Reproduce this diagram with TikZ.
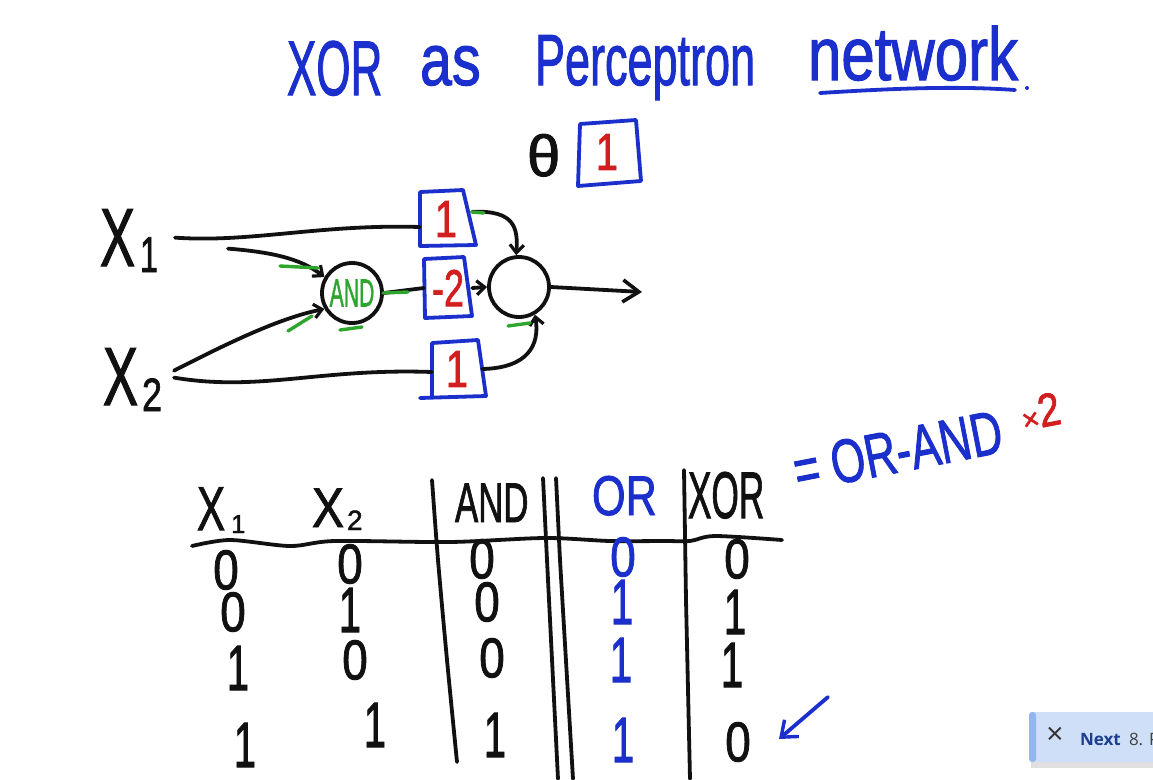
\documentclass[tikz,border=0pt]{standalone}
\usepackage{fontspec}
\setmainfont{Liberation Sans}[FakeBold=1.6]
\newfontfamily\uifont{Open Sans}
\usetikzlibrary{arrows.meta,calc}
\definecolor{penblue}{HTML}{1A2FCC}
\definecolor{penred}{HTML}{D21E1E}
\definecolor{pengreen}{HTML}{2EA62E}
\definecolor{ink}{HTML}{111111}
\definecolor{uibg}{HTML}{CFDFF8}
\definecolor{uistrip}{HTML}{93B6EE}
\definecolor{uitext}{HTML}{1B3F8E}
\newcommand{\hw}[3]{\scalebox{#1}[#2]{#3}}
\newcommand{\fs}[1]{\fontsize{#1}{#1}\selectfont}
\newcommand{\Zr}{\hw{1.15}{1.4}{0}}
\newcommand{\On}{\hw{1}{1.6}{1}}
\begin{document}
\begin{tikzpicture}[x=1pt,y=-1pt,
  txt/.style={inner sep=0pt, outer sep=0pt, anchor=base west, text=ink},
  dig/.style={inner sep=0pt, font=\fs{40}, text=ink},
  inkline/.style={line width=3.8pt, line cap=round, line join=round, draw=ink},
  bpen/.style={line width=3.8pt, line cap=round, line join=round, draw=penblue},
  gpen/.style={line width=3.4pt, line cap=round, draw=pengreen},
  barb/.style={-{Straight Barb[length=8pt,width=14pt,line width=3.2pt]}},
  neuron/.style={circle, draw=ink, line width=3.8pt, minimum size=60pt, inner sep=0pt},
  wbox/.style={inner sep=0pt, font=\fs{40}, text=penred}
]
\useasboundingbox (0,0) rectangle (1153,779);
\fill[white] (0,0) rectangle (1153,779);

% title
\node[txt, text=penblue, font=\fs{50}] (tw1) at (287,95) {\hw{0.88}{1.55}{XOR}};
\node[txt, text=penblue, font=\fs{50}] (tw2) at (420,85) {\hw{1.15}{1.45}{as}};
\node[txt, text=penblue, font=\fs{50}] (tw3) at (535,85) {\hw{0.9}{1.45}{Perceptron}};
\node[txt, text=penblue, font=\fs{50}] (tw4) at (808,80) {\hw{1.2}{1.5}{network}};
\draw[bpen] (820,93) .. controls (900,88) and (960,86) .. (1015,90);
\fill[penblue] (1027,88) circle (2);

% theta
\node[txt, font=\fs{40}] (theta) at (527,176) {\hw{1.5}{1.45}{θ}};
\draw[bpen] (580,124) -- (578,186) -- (641,181) -- (636,120) -- cycle;
\node[wbox] (thval) at (607,152) {\hw{1}{1.3}{1}};

% weight boxes
\draw[bpen] (420,192) -- (420,246) -- (476,245) -- (463,190) -- cycle;
\node[wbox, minimum width=52pt, minimum height=54pt] (w1) at (446,219) {\hw{1}{1.3}{1}};
\draw[bpen] (424,259) -- (425,318) -- (472,316) -- (464,257) -- cycle;
\node[wbox, minimum width=48pt, minimum height=58pt] (w2) at (448,288) {\hw{0.9}{1.3}{-2}};
\draw[bpen] (432,396) -- (432,343) -- (478,340) -- (486,396) -- (420,398);
\node[wbox, minimum width=50pt, minimum height=54pt] (w3) at (457,369) {\hw{1}{1.3}{1}};

% units
\node[neuron, text=pengreen, font=\fs{23}] (AND) at (352,293) {\hw{0.92}{1.7}{AND}};
\node[neuron] (out) at (519,287) {};

% inputs
\node[txt, font=\fs{50}] (X1) at (100,266) {\hw{1.05}{1.65}{X}\kern5pt\raisebox{-6pt}{\fs{36}\hw{0.9}{1.4}{1}}};
\node[txt, font=\fs{50}] (X2) at (103,405) {\hw{1.05}{1.65}{X}\kern4pt\raisebox{-6pt}{\fs{36}\hw{1}{1.3}{2}}};

% connectors
\draw[inkline] ($(X1.east)+(17,-3)$) .. controls (250,243) and (320,224) .. ($(w1.west)+(0,8)$);
\draw[inkline, barb] ($(X1.east)+(70,8)$) .. controls (270,252) and (300,258) .. (AND.150);
\draw[inkline, barb] ($(X2.east)+(12,-9)$) .. controls (230,342) and (280,318) .. (AND.210);
\draw[inkline] ($(X2.east)+(12,-2)$) .. controls (260,392) and (320,368) .. ($(w3.west)+(0,3)$);
\draw[inkline] (AND.east) -- (w2.west);
\draw[inkline, barb] (w2.east) -- (out.west);
\draw[inkline, barb] ($(w1.north east)+(0,20)$) .. controls (515,210) and (518,228) .. (out.95);
\draw[inkline, barb] (w3.east) .. controls (528,368) and (540,345) .. (out.-60);
\coordinate (outend) at (642,292);
\draw[inkline, -{Straight Barb[length=16pt,width=22pt,line width=3.6pt]}] (out.east) -- (outend);

% green marks
\draw[gpen] (280,266) -- (318,268);
\draw[gpen] (288,331) -- (312,316);
\draw[gpen] (340,330) -- (362,327);
\draw[gpen] (383,293) -- (408,292);
\draw[gpen] (472,212) -- (484,213);
\draw[gpen] (508,326) -- (530,323);

% equation
\node[txt, font=\fs{44}, text=penblue, rotate=11] (eq) at (798,492) {\hw{1}{1.4}{= OR-AND}};
\node[txt, font=\fs{36}, text=penred, rotate=11] (times2) at (1024,431) {{\fs{30}×}\hw{1.1}{1.3}{2}};

% table lines
\draw[inkline] plot[smooth] coordinates {(192,546) (230,540) (290,546) (335,541) (450,542) (545,538) (610,541) (665,541) (690,541) (715,536) (782,540)};
\draw[inkline] plot[smooth] coordinates {(432,480) (438,560) (447,660) (457,762)};
\draw[inkline] (543,478) -- (547,560) -- (558,779);
\draw[inkline] (556,478) -- (560,560) -- (573,779);
\draw[inkline] (684,470) -- (686,600) -- (690,779);

% headers
\node[txt, font=\fs{40}] (hX1) at (197,530) {\hw{1.05}{1.55}{X}\kern6pt\raisebox{-3pt}{\fs{26}1}};
\node[txt, font=\fs{40}] (hX2) at (312,527) {\hw{1.2}{1.4}{X}\kern3pt\raisebox{-3pt}{\fs{28}2}};
\node[txt, font=\fs{40}] (hAND) at (455,522) {\hw{0.87}{1.4}{AND}};
\node[txt, font=\fs{40}, text=penblue] (hOR) at (592,515) {\hw{1.08}{1.4}{OR}};
\node[txt, font=\fs{40}] (hXOR) at (688,518) {\hw{0.88}{1.65}{XOR}};

% rows
\node[dig] (r1a) at (226,570) {\Zr};
\node[dig] (r1b) at (350,564) {\Zr};
\node[dig] (r1c) at (482,559) {\Zr};
\node[dig, text=penblue] (r1d) at (623,557) {\Zr};
\node[dig] (r1e) at (737,559) {\Zr};
\node[dig] (r2a) at (233,612) {\Zr};
\node[dig] (r2b) at (350,610) {\On};
\node[dig] (r2c) at (487,602) {\Zr};
\node[dig, text=penblue] (r2d) at (622,602) {\On};
\node[dig] (r2e) at (735,612) {\On};
\node[dig] (r3a) at (238,668) {\On};
\node[dig] (r3b) at (355,660) {\Zr};
\node[dig] (r3c) at (492,658) {\Zr};
\node[dig, text=penblue] (r3d) at (621,660) {\On};
\node[dig] (r3e) at (732,665) {\On};
\node[dig] (r4a) at (245,745) {\On};
\node[dig] (r4b) at (375,725) {\On};
\node[dig] (r4c) at (495,735) {\On};
\node[dig, text=penblue] (r4d) at (623,740) {\On};
\node[dig] (r4e) at (738,742) {\Zr};

% blue arrow
\coordinate (ba1) at (828,697);
\coordinate (ba2) at (779,739);
\draw[bpen, -{Straight Barb[length=14pt,width=22pt,line width=3.4pt]}] (ba1) -- (ba2);

% popup
\begin{scope}
\clip (0,0) rectangle (1153,779);
\fill[black, opacity=0.12] (1031,716) rectangle (1170,768);
\fill[uibg, rounded corners=4pt] (1029,712) rectangle (1170,762);
\fill[uistrip, rounded corners=3pt] (1029,712) rectangle (1036,762);
\node[text=black!80, font=\uifont\fs{30}] (px) at (1055,736) {×};
\node[txt, font=\uifont\bfseries\fs{17}, text=uitext] (pnext) at (1080,745) {Next};
\node[txt, font=\uifont\fs{17}, text=black!75] (pnum) at (1129,745) {8. P};
\end{scope}
\end{tikzpicture}
\end{document}
